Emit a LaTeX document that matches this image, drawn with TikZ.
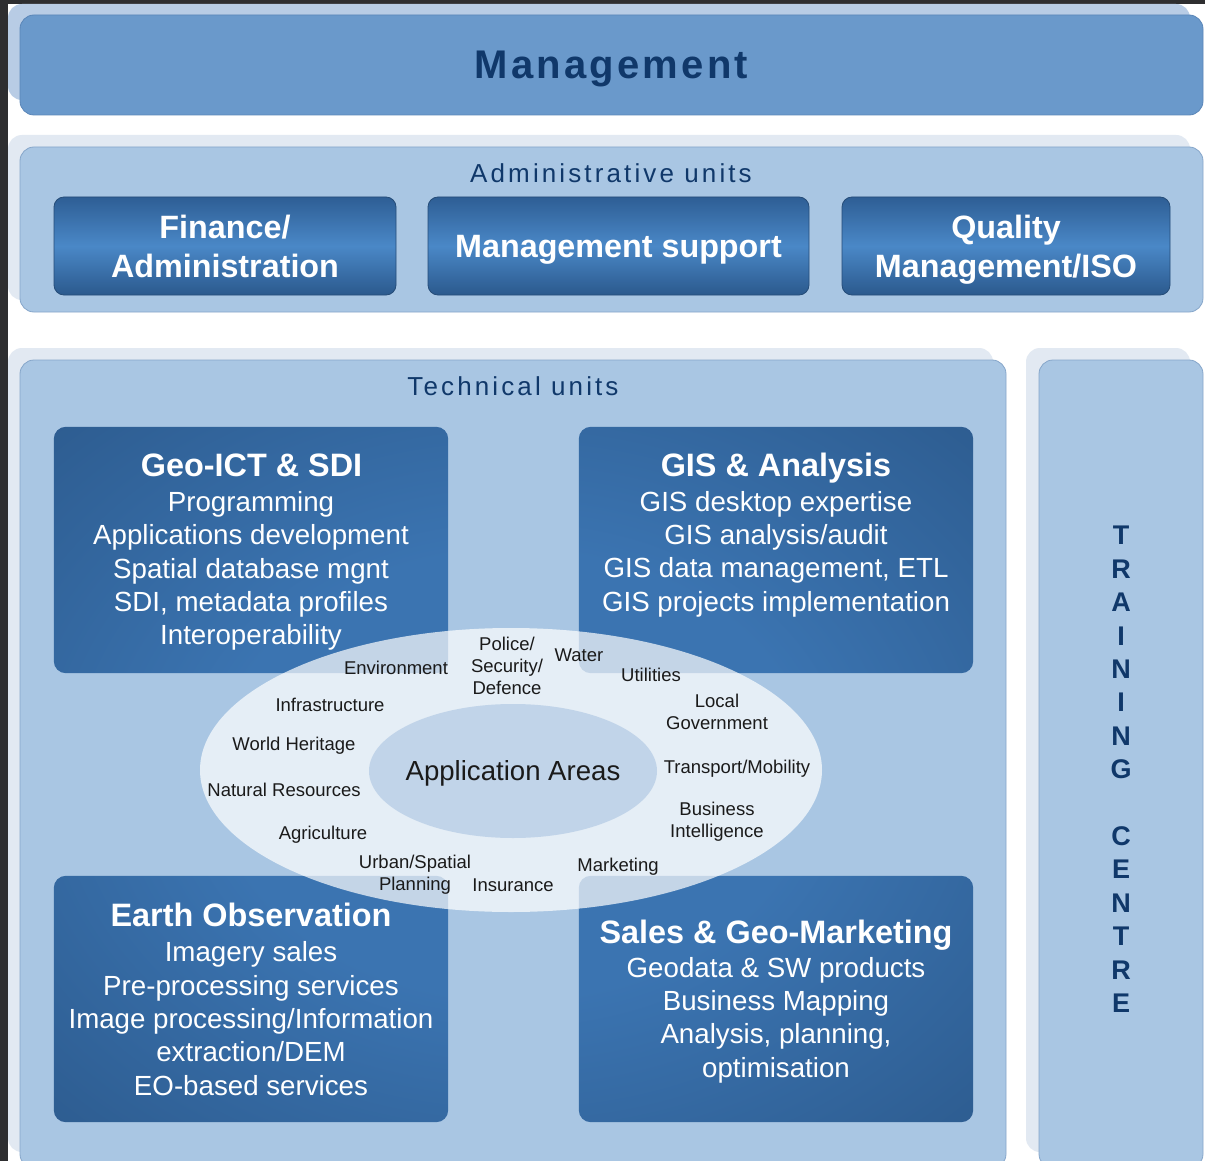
\documentclass[tikz,border=0pt]{standalone}
\usepackage{fontspec}
\setmainfont{Liberation Sans}
\usetikzlibrary{shapes.geometric}
\definecolor{frame}{HTML}{2E2E30}
\definecolor{mgmtfill}{HTML}{6A99CB}
\definecolor{mgmtshadow}{HTML}{B8CCE5}
\definecolor{mgmtborder}{HTML}{5A86B8}
\definecolor{panelfill}{HTML}{A9C6E3}
\definecolor{panelborder}{HTML}{86A6CA}
\definecolor{panelshadow}{HTML}{E2E9F2}
\definecolor{navy}{HTML}{10386A}
\definecolor{btop}{HTML}{2E5E95}
\definecolor{bmid}{HTML}{4A88C7}
\definecolor{bbot}{HTML}{2B598D}
\definecolor{tlight}{HTML}{3B74B1}
\definecolor{tdark}{HTML}{295586}
\definecolor{innerfill}{HTML}{C1D4E9}
\definecolor{areatext}{HTML}{1A1A1A}
\pgfdeclareradialshading{techglow}{\pgfpoint{0bp}{0bp}}{color(0bp)=(tlight); color(16bp)=(tlight); color(42bp)=(tdark); color(80bp)=(tdark)}
\tikzset{
  panelbox/.style={draw=panelborder, line width=0.8pt, fill=panelfill, rounded corners=14pt, inner sep=0pt},
  admbox/.style={draw=bbot!85!black, line width=0.8pt, rounded corners=10pt, top color=btop, bottom color=bbot, middle color=bmid, minimum height=98pt, inner sep=0pt, text=white, align=center, text depth=0pt, font=\bfseries\fontsize{32.3}{39}\selectfont},
  unitbox/.style={minimum width=394pt, minimum height=246pt, inner sep=0pt},
  boxtitle/.style={text=white, inner sep=0pt, text depth=0pt, font=\bfseries\fontsize{32.4}{36}\selectfont},
  boxbody/.style={text=white, inner sep=0pt, align=center, font=\fontsize{27.7}{33.3}\selectfont},
  area/.style={text=areatext, inner sep=0pt, align=center, text depth=0pt, font=\fontsize{18.5}{22}\selectfont},
  heading/.style={text=navy, inner sep=0pt, font=\fontsize{26}{30}\selectfont\addfontfeature{LetterSpace=12}}
}
\begin{document}
\begin{tikzpicture}[x=1pt, y=-1pt]
\useasboundingbox (0,0) rectangle (1205,1161);
\fill[white] (0,0) rectangle (1205,1161);
\fill[frame] (0,0) rectangle (8,1161);
\fill[frame] (0,0) rectangle (1205,4);

% shadows
\fill[mgmtshadow, rounded corners=14pt] (8,4) rectangle (1190,100);
\fill[panelshadow, rounded corners=14pt] (8,135) rectangle (1190,300);
\fill[panelshadow, rounded corners=14pt] (8,348) rectangle (993,1152);
\fill[panelshadow, rounded corners=14pt] (1026,348) rectangle (1190,1152);

% management bar
\node[draw=mgmtborder, line width=0.8pt, fill=mgmtfill, rounded corners=14pt, minimum width=1183pt, minimum height=100pt, inner sep=0pt,
      text=navy, text depth=0pt, font=\bfseries\fontsize{40}{46}\selectfont\addfontfeature{LetterSpace=8}] (mgmt) at (611.5,65) {Management};

% administrative units
\node[panelbox, minimum width=1183pt, minimum height=165pt] (admin) at (611.5,229.5) {};
\node[heading] (adminlbl) at (611,173) {Administrative units};
\node[admbox, minimum width=342pt] (finance) at (225,246) {Finance/\\Administration};
\node[admbox, minimum width=381pt] (support) at (618.5,246) {Management support};
\node[admbox, minimum width=328pt] (quality) at (1006,246) {Quality\\Management/ISO};

% technical units
\node[panelbox, minimum width=986pt, minimum height=808pt] (tech) at (513,764) {};
\node[heading] (techlbl) at (513,386) {Technical units};

% training centre
\node[panelbox, minimum width=164pt, minimum height=808pt] (train) at (1121,764) {};
\node[text=navy, inner sep=0pt, align=center, font=\bfseries\fontsize{27}{33.4}\selectfont] (trainlbl) at (1121,769.5)
  {T\\R\\A\\I\\N\\I\\N\\G\\[33.4pt]C\\E\\N\\T\\R\\E};

% unit boxes
\node[unitbox] (geo) at (251,550) {};
\node[unitbox] (gis) at (776,550) {};
\node[unitbox] (eo) at (251,999) {};
\node[unitbox] (sales) at (776,999) {};
\path[shading=techglow, rounded corners=12pt]
  (geo.north west) rectangle (geo.south east)
  (gis.north west) rectangle (gis.south east)
  (eo.north west) rectangle (eo.south east)
  (sales.north west) rectangle (sales.south east);

\node[boxtitle] (geot) at (251.5,465) {Geo-ICT \& SDI};
\node[boxbody] (geob) at (251,571) {Programming\\Applications development\\Spatial database mgnt\\SDI, metadata profiles\\Interoperability};
\node[boxtitle] (gist) at (776,465) {GIS \& Analysis};
\node[boxbody] (gisb) at (776,554) {GIS desktop expertise\\GIS analysis/audit\\GIS data management, ETL\\GIS projects implementation};
\node[boxtitle] (eot) at (251,915) {Earth Observation};
\node[boxbody] (eob) at (251,1018.5) {Imagery sales\\Pre-processing services\\Image processing/Information\\extraction/DEM\\EO-based services};
\node[boxtitle] (salest) at (776,932) {Sales \& Geo-Marketing};
\node[boxbody] (salesb) at (776,1020) {Geodata \& SW products\\Business Mapping\\Analysis, planning,\\optimisation};

% application areas
\node[ellipse, fill=white, fill opacity=0.7, minimum width=622pt, minimum height=284pt, inner sep=0pt] (outer) at (511,770) {};
\node[ellipse, fill=innerfill, minimum width=288pt, minimum height=134pt, inner sep=0pt] (inner) at (513,771) {};
\node[text=areatext, inner sep=0pt, text depth=0pt, font=\fontsize{27.6}{32}\selectfont] (aa) at (513,770) {Application Areas};

\node[area] (police) at (507,666) {Police/\\Security/\\Defence};
\node[area] (water) at (579,655) {Water};
\node[area] (env) at (396,668) {Environment};
\node[area] (util) at (651,675) {Utilities};
\node[area] (local) at (717,712) {Local\\Government};
\node[area] (infra) at (330,705) {Infrastructure};
\node[area] (world) at (294,744) {World Heritage};
\node[area] (trans) at (737,767) {Transport/Mobility};
\node[area] (natural) at (284,790) {Natural Resources};
\node[area] (bi) at (717,820) {Business\\Intelligence};
\node[area] (agri) at (323,833) {Agriculture};
\node[area] (urban) at (415,873) {Urban/Spatial\\Planning};
\node[area] (insur) at (513,885) {Insurance};
\node[area] (market) at (618,865) {Marketing};
\end{tikzpicture}
\end{document}
